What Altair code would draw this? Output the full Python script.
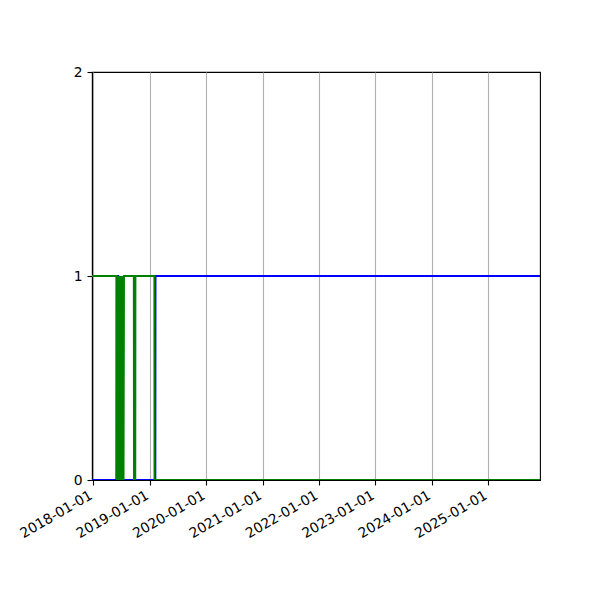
import altair as alt
import pandas as pd

# Blue series (drawn first)
blue_dates = ["2017-12-23", "2018-05-30", "2018-05-31", "2018-06-11", "2018-06-12",
              "2018-09-23", "2018-09-24", "2018-09-26", "2018-09-27",
              "2019-02-06", "2019-02-07", "2025-12-02"]
blue_values = [0, 0, 1, 1, 0,
               0, 1, 1, 0,
               0, 1, 1]

# Green series (drawn on top)
green_dates = ["2017-12-23", "2018-06-02", "2018-06-03", "2018-06-06", "2018-06-09",
               "2018-06-12", "2018-06-15", "2018-06-18", "2018-06-21", "2018-06-24",
               "2018-06-27", "2018-06-30", "2018-07-03", "2018-07-06", "2018-07-09",
               "2018-07-12", "2018-07-15", "2018-07-18",
               "2018-09-20", "2018-09-21", "2018-09-29", "2018-09-30",
               "2019-01-31", "2019-02-01", "2025-12-02"]
green_values = [1, 1, 0, 1, 0,
                1, 0, 1, 0, 1,
                0, 1, 0, 1, 0,
                1, 0, 1,
                1, 0, 0, 1,
                1, 0, 0]

tick_years = [2018, 2019, 2020, 2021, 2022, 2023, 2024, 2025]
y_ticks = [0, 1, 2]

blue_df = pd.DataFrame({"date": blue_dates, "value": blue_values})
green_df = pd.DataFrame({"date": green_dates, "value": green_values})

x_enc = alt.X(
    "date:T",
    scale=alt.Scale(domain=[alt.DateTime(year=2017, month=12, date=23, utc=True),
                            alt.DateTime(year=2025, month=12, date=2, utc=True)]),
    axis=alt.Axis(
        values=[alt.DateTime(year=y, month=1, date=1, utc=True) for y in tick_years],
        labelExpr="utcFormat(datum.value, '%Y-%m-%d')",
        labelAngle=-30, labelAlign="right", labelBaseline="top",
        labelPadding=3, labelOffset=-6, labelOverlap=False,
        grid=True, gridColor="#b0b0b0", gridWidth=1.1,
        title=None,
    ),
)
y_enc = alt.Y(
    "value:Q",
    scale=alt.Scale(domain=[0, 2], nice=False, zero=False),
    axis=alt.Axis(values=y_ticks, grid=False, title=None, labelExpr="format(datum.value, 'd')",
                  labelPadding=5, labelOverlap=False, labelFlush=False),
)

blue = alt.Chart(blue_df).mark_line(color="#0000ff", strokeWidth=2, clip=True).encode(x=x_enc, y=y_enc)
green = alt.Chart(green_df).mark_line(color="#008000", strokeWidth=2, clip=True).encode(x=x_enc, y=y_enc)

chart = alt.layer(blue, green).properties(
    width=448, height=408,
    autosize=alt.AutoSizeParams(type="none"),
    padding={"left": 84, "top": 64, "right": 52, "bottom": 104},
    background="white",
).configure_view(
    stroke="black", strokeWidth=1.1
).configure_axis(
    domainColor="black", domainWidth=1.1,
    tickColor="black", tickSize=5, tickWidth=1.1,
    labelColor="black", labelFont="DejaVu Sans", labelFontSize=13.9,
)

chart.save("out.html", embed_options={"renderer": "svg", "actions": False})
